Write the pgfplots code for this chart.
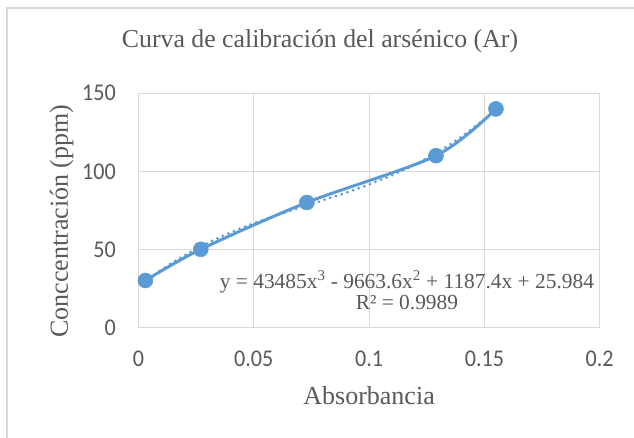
\documentclass[border=0pt]{standalone}
\usepackage{fontspec}
\setmainfont{Liberation Serif}
\newfontfamily\tickfont[FakeStretch=0.92]{Carlito}
\usepackage{pgfplots}
\pgfplotsset{compat=1.18}
\definecolor{xlblue}{HTML}{5B9BD5}
\definecolor{xltext}{HTML}{595959}
\definecolor{xlgrid}{HTML}{D9D9D9}
\begin{document}
\begin{tikzpicture}
\useasboundingbox (-138.5pt,-110.7pt) rectangle (495.5pt,327.3pt);
\draw[xlgrid, line width=1.5pt] (-131.5pt,-120pt) -- (-131.5pt,319.3pt) -- (510pt,319.3pt);
\begin{axis}[
  scale only axis,
  width=461.2pt, height=234pt,
  at={(0pt,0pt)}, anchor=south west,
  xmin=0, xmax=0.2, ymin=0, ymax=150,
  xtick={0,0.05,0.1,0.15,0.2},
  xticklabels={0,0.05,0.1,0.15,0.2},
  ytick={0,50,100,150},
  yticklabels={0,50,100,150},
  major tick length=0pt,
  grid=major,
  grid style={xlgrid, line width=1.2pt},
  axis line style={xlgrid, line width=1.2pt},
  tick label style={font=\tickfont\fontsize{24}{26}\selectfont, text=xltext, inner sep=0pt},
  xticklabel style={anchor=base, yshift=-39pt},
  yticklabel style={anchor=east, xshift=-22.5pt},
  title={Curva de calibración del arsénico (Ar)},
  title style={at={(axis description cs:0.3935,1.171)}, anchor=base, font=\fontsize{25.8}{28}\selectfont, text=xltext, inner sep=0pt},
  xlabel={Absorbancia},
  xlabel style={at={(axis description cs:0.5,-0.332)}, anchor=base, font=\fontsize{26}{28}\selectfont, text=xltext, inner sep=0pt},
  ylabel={Conccentración (ppm)},
  ylabel style={at={(axis description cs:-0.1529,0.454)}, anchor=base, font=\fontsize{26}{28}\selectfont, text=xltext, inner sep=0pt},
  clip=false,
]
\addplot[xlblue, line width=3pt, smooth, line cap=round, dash pattern=on 0pt off 6pt]
  coordinates {(0.003,29.46) (0.01,36.93) (0.02,46.21) (0.03,54.08) (0.04,60.80) (0.05,66.63) (0.06,71.83) (0.07,76.67) (0.08,81.39) (0.09,86.28) (0.10,91.57) (0.11,97.55) (0.12,104.46) (0.13,112.57) (0.14,122.14) (0.15,133.43) (0.155,139.79)};
\addplot[xlblue, line width=3pt, smooth, mark=*, mark size=7.5pt, mark options={fill=xlblue, draw=xlblue, line width=0.5pt}]
  coordinates {(0.003,30) (0.027,50) (0.073,80) (0.129,110) (0.155,140)};
\node[anchor=base, inner sep=0pt, text=xltext, font=\fontsize{21.4}{24}\selectfont] at (axis cs:0.1164,25) {y = 43485x\textsuperscript{3} - 9663.6x\textsuperscript{2} + 1187.4x + 25.984};
\node[anchor=base, inner sep=0pt, text=xltext, font=\fontsize{21.4}{24}\selectfont] at (axis cs:0.1164,11.5) {R² = 0.9989};
\end{axis}
\end{tikzpicture}
\end{document}
